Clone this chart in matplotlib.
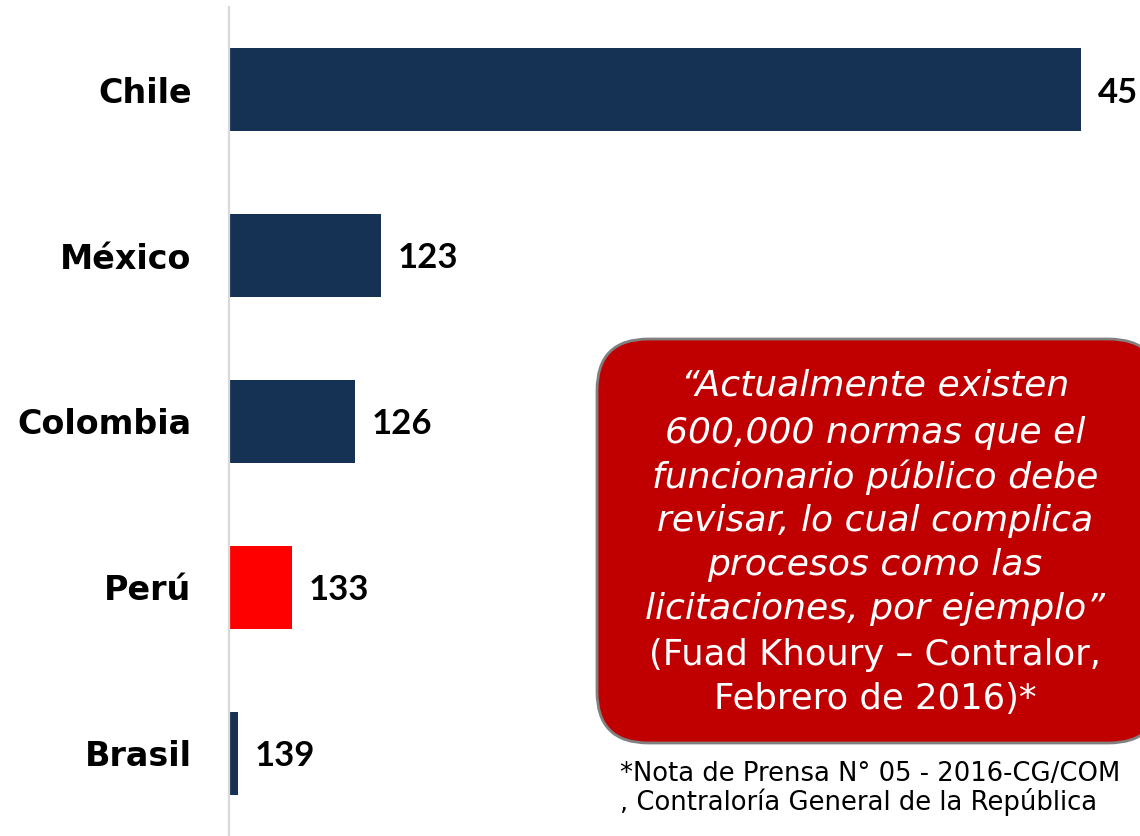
import matplotlib
matplotlib.use("Agg")
import matplotlib.pyplot as plt
from matplotlib.patches import FancyBboxPatch

countries = ["Chile", "México", "Colombia", "Perú", "Brasil"]
ranks = [45, 123, 126, 133, 139]          # labels shown on the chart
bar_lengths = [95, 17, 14, 7, 1]          # bar extents as drawn
bar_colors = ["#153154", "#153154", "#153154", "#FF0000", "#153154"]

quote_italic = ["\u201cActualmente existen",
                "600,000 normas que el",
                "funcionario público debe",
                "revisar, lo cual complica",
                "procesos como las",
                "licitaciones, por ejemplo\u201d"]
quote_upright = ["(Fuad Khoury \u2013 Contralor,",
                 "Febrero de 2016)*"]
footnote = ["*Nota de Prensa N° 05 - 2016-CG/COM",
            ", Contraloría General de la República"]

fig = plt.figure(figsize=(11.4, 8.36), dpi=100)
ax = fig.add_axes([229/1140, 0.0, 1 - 229/1140, 1 - 7/836])

y = list(range(len(countries)))
ax.barh(y, bar_lengths, height=0.5, color=bar_colors, zorder=2)
ax.set_ylim(len(countries) - 0.5, -0.5)
ax.set_xlim(0, 101.6)

for s in ["top", "right", "bottom"]:
    ax.spines[s].set_visible(False)
ax.spines["left"].set_color("#d9d9d9")
ax.spines["left"].set_linewidth(1.6)
ax.set_xticks([])
ax.set_yticks(y)
ax.set_yticklabels(countries, fontsize=24, fontweight="bold", family="DejaVu Sans")
ax.tick_params(axis="y", length=0, pad=27)

for yi, L, r in zip(y, bar_lengths, ranks):
    ax.annotate(str(r), xy=(L, yi), xytext=(12, -2), textcoords="offset points",
                ha="left", va="center", fontsize=25, fontweight="bold",
                family="Lato", clip_on=False, annotation_clip=False)

# quote box in figure pixel coordinates
W, H = 1140, 836
box = FancyBboxPatch((597/W, 1 - 743/H), (1160 - 597)/W, (743 - 339)/H,
                     boxstyle="round,pad=0,rounding_size=0.045",
                     transform=fig.transFigure, facecolor="#C00000",
                     edgecolor="#808080", linewidth=2, mutation_aspect=W/H)
fig.patches.append(box)

cx = 875/W
line_y = [385, 433, 477, 521, 565, 609, 655, 699]
lines = [(t, "italic", 26) for t in quote_italic] + [(t, "normal", 25.5) for t in quote_upright]
for (t, st, fs), ly in zip(lines, line_y):
    fig.text(cx, 1 - ly/H, t, ha="center", va="center", color="white",
             fontsize=fs, style=st, family="DejaVu Sans")

for t, ly in zip(footnote, [774, 802]):
    fig.text(620/W, 1 - ly/H, t, ha="left", va="center", color="black",
             fontsize=18.6, family="DejaVu Sans")

fig.savefig("out.png", dpi=100)
